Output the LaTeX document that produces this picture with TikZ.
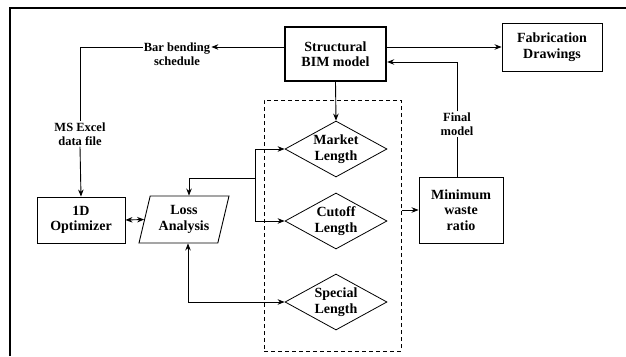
\documentclass[tikz,border=0pt]{standalone}
\usepackage{fontspec}
\setmainfont{Liberation Serif}
\usetikzlibrary{shapes.geometric,positioning,arrows.meta}

\newcommand{\boxfont}{\bfseries\fontsize{14}{15.5}\selectfont}
\newcommand{\lblfont}{\bfseries\fontsize{12.5}{14}\selectfont}

\begin{document}
\begin{tikzpicture}[>={Stealth[length=7pt,width=5.5pt]}, x=1pt, y=-1pt,
    box/.style={draw, line width=0.9pt, align=center, font=\boxfont, inner sep=0pt},
    decision/.style={draw, line width=0.8pt, shape=diamond, aspect=1.8, align=center,
        font=\boxfont, inner sep=-3pt, minimum width=102pt, minimum height=56pt},
    slanted/.style={draw, line width=0.9pt, shape=trapezium, trapezium left angle=68,
        trapezium right angle=112, align=center, font=\boxfont, inner sep=0pt,
        trapezium stretches body, minimum width=90pt, minimum height=47pt},
    lbl/.style={align=center, font=\lblfont, inner sep=1pt},
    link/.style={line width=0.9pt}]

    \useasboundingbox (0,0) rectangle (626,356);

    % =====================
    % Frame
    % =====================
    \draw[line width=1.2pt] (10,356) -- (10,8) -- (626,8);

    % =====================
    % Boxes
    % =====================
    \node[box, line width=2.4pt, minimum width=101pt, minimum height=54pt] (bim) at (335.5,54)
        {Structural\\BIM model};
    \node[box, minimum width=100pt, minimum height=48pt] (fab) at (552,47)
        {Fabrication\\Drawings};
    \node[box, minimum width=88pt, minimum height=46pt] (opt) at (81,220)
        {1D\\Optimizer};
    \node[slanted] (loss) at (184,219.5) {Loss\\Analysis};
    \node[box, minimum width=84pt, minimum height=66pt] (minw) at (461,210)
        {Minimum\\waste\\ratio};

    % =====================
    % Dashed group
    % =====================
    \node[draw, dash pattern=on 4pt off 3pt, line width=1pt, minimum width=137pt,
        minimum height=251pt, inner sep=0pt] (group) at (332.5,225.5) {};
    \node[decision] (market) at (336,149) {Market\\Length};
    \node[decision] (cutoff) at (336,221) {Cutoff\\Length};
    \node[decision] (special) at (336,302) {Special\\Length};

    % =====================
    % Labels
    % =====================
    \node[lbl] (bbs) at (177,54) {Bar bending\\schedule};
    \node[lbl] (excel) at (80,134) {MS Excel\\data file};
    \node[lbl] (final) at (457,124) {Final\\model};

    % =====================
    % Arrows
    % =====================
    \coordinate (split) at (255,178);
    \draw[->, link] (bim.east |- fab) -- (fab.west);
    \draw[->, link] (bim.west |- fab) -- (bbs.east |- fab);
    \draw[link] (bbs.west |- fab) -| (excel.north);
    \draw[->, link] (excel.south) -- (opt.north);
    \draw[link] (minw.north -| final) -- (final.south);
    \draw[->, link] (final.north) |- ([yshift=-8pt]bim.east);
    \draw[->, link] (bim.south) -- (market.north);
    \draw[->, link] (split) |- (market.west);
    \draw[->, link] (split) |- (cutoff.west);
    \draw[->, link] (split) -| ([xshift=5pt]loss.north);
    \draw[<->, link] ([xshift=4pt]loss.south) |- (special.west);
    \draw[<->, link] (opt.east) -- (loss.west);
    \draw[->, link] (minw.west -| group.east) -- (minw.west);

\end{tikzpicture}
\end{document}
